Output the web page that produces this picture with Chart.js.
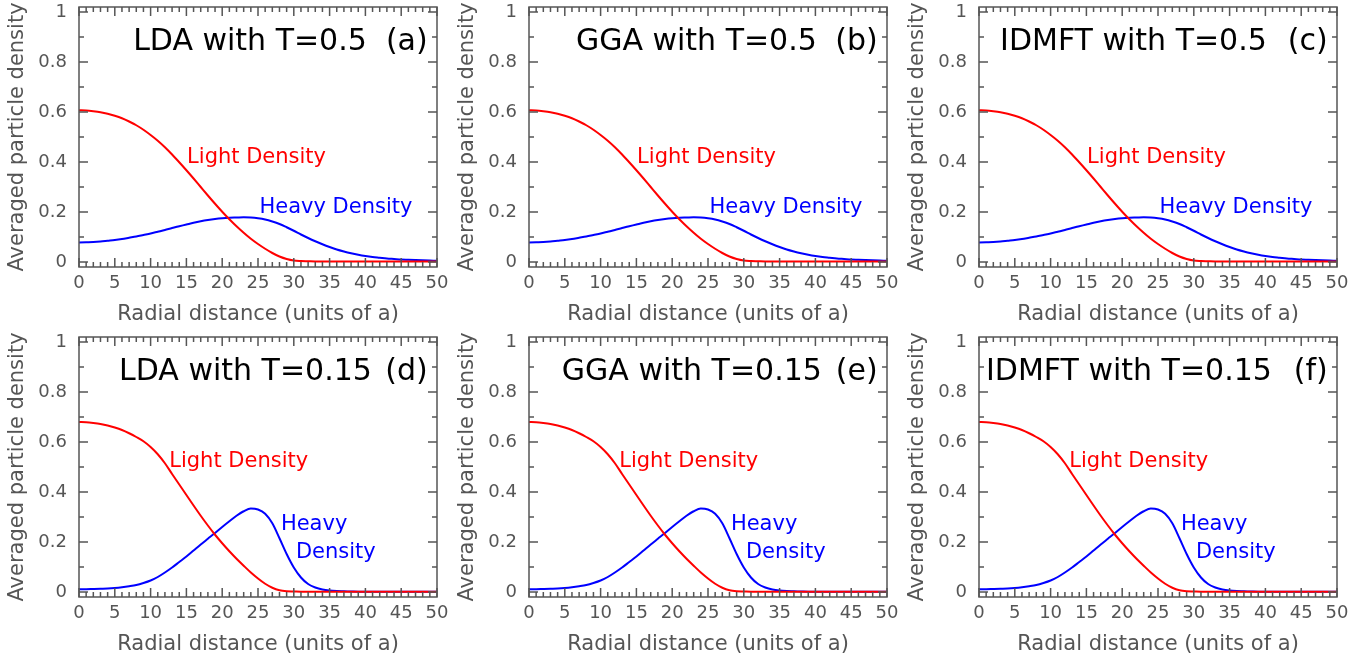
<!DOCTYPE html>
<html lang="en">
<head>
    <meta charset="UTF-8">
    <meta name="viewport" content="width=device-width, initial-scale=1.0">
    <title>Averaged particle density</title>
    <script src="https://cdn.jsdelivr.net/npm/chart.js@4.4.2/dist/chart.umd.min.js"></script>
    <style>
        body { margin: 0; background: #fff; }
        #wrap { position: relative; width: 1372px; height: 662px; }
        #wrap canvas { position: absolute; }
    </style>
</head>
<body>

    <div id="wrap"></div>

    <script>

        // radial distance (units of a)
        const radius = [0,1,2,3,4,5,6,7,8,9,10,11,12,13,14,15,16,17,18,19,20,21,22,23,24,25,
                        26,27,28,29,30,31,32,33,34,35,36,37,38,39,40,41,42,43,44,45,46,47,48,49,50];

        // T = 0.5 (top row)
        const lightHot = [0.607,0.606,0.603,0.599,0.593,0.585,0.575,0.562,0.547,0.529,0.508,0.485,0.459,0.430,0.399,0.367,
                          0.334,0.300,0.266,0.233,0.201,0.171,0.143,0.117,0.093,0.072,0.053,0.036,0.022,0.012,0.006,0.004,
                          0.003,0.002,0.002,0.002,0.002,0.002,0.002,0.002,0.002,0.002,0.002,0.002,0.002,0.002,0.002,0.002,
                          0.002,0.002,0.002];
        const heavyHot = [0.078,0.079,0.080,0.082,0.085,0.088,0.092,0.097,0.102,0.108,0.114,0.121,0.128,0.136,0.143,0.150,
                          0.157,0.163,0.168,0.172,0.175,0.177,0.178,0.179,0.178,0.175,0.170,0.162,0.152,0.139,0.125,0.110,
                          0.096,0.083,0.071,0.060,0.050,0.042,0.035,0.029,0.024,0.020,0.017,0.014,0.012,0.010,0.009,0.008,
                          0.007,0.006,0.005];

        // T = 0.15 (bottom row)
        const lightCold = [0.680,0.679,0.676,0.672,0.666,0.658,0.648,0.635,0.620,0.603,0.580,0.551,0.515,0.472,0.430,0.388,
                           0.346,0.305,0.266,0.229,0.195,0.163,0.133,0.105,0.078,0.054,0.033,0.017,0.007,0.003,0.002,0.001,
                           0.001,0.001,0.001,0.001,0.001,0.001,0.001,0.001,0.001,0.001,0.001,0.001,0.001,0.001,0.001,0.001,
                           0.001,0.001,0.001];
        const heavyCold = [0.011,0.011,0.012,0.013,0.014,0.016,0.019,0.023,0.028,0.036,0.046,0.060,0.078,0.098,0.120,0.142,
                           0.166,0.190,0.213,0.236,0.260,0.283,0.305,0.323,0.334,0.330,0.313,0.275,0.215,0.152,0.098,0.058,
                           0.032,0.018,0.010,0.006,0.004,0.003,0.002,0.001,0.001,0.001,0.001,0.001,0.001,0.001,0.001,0.001,
                           0.001,0.001,0.001];

        const xTicks = [0,5,10,15,20,25,30,35,40,45,50];
        const yTicks = [0,0.2,0.4,0.6,0.8,1];

        const methods = ['LDA','GGA','IDMFT'];
        const temps = ['0.5','0.15'];
        const letters = [['(a)','(b)','(c)'],['(d)','(e)','(f)']];

        const FONT = '"DejaVu Sans", sans-serif';
        const GREY = '#555';

        // box with inward ticks on all four sides
        const framePlugin = {
            id: 'frame',
            afterDatasetsDraw(chart) {
                const {ctx, chartArea: a, scales: {x, y}} = chart;
                ctx.save();
                ctx.strokeStyle = GREY;
                ctx.lineWidth = 1.5;
                ctx.strokeRect(a.left, a.top, a.width, a.height);
                ctx.beginPath();
                for (let v = 0; v <= 50; v++) {
                    const px = x.getPixelForValue(v);
                    const len = v % 5 === 0 ? 9 : 5;
                    ctx.moveTo(px, a.bottom); ctx.lineTo(px, a.bottom - len);
                    ctx.moveTo(px, a.top); ctx.lineTo(px, a.top + len);
                }
                for (let k = 0; k <= 10; k++) {
                    const py = y.getPixelForValue(k / 10);
                    const len = k % 2 === 0 ? 9 : 5;
                    ctx.moveTo(a.left, py); ctx.lineTo(a.left + len, py);
                    ctx.moveTo(a.right, py); ctx.lineTo(a.right - len, py);
                }
                ctx.stroke();
                ctx.restore();
            }
        };

        // titles and curve labels, placed in data coordinates
        const notesPlugin = {
            id: 'notes',
            afterDatasetsDraw(chart, args, opts) {
                const {ctx, scales: {x, y}} = chart;
                ctx.save();
                ctx.textBaseline = 'alphabetic';
                opts.items.forEach(t => {
                    ctx.font = t.size + 'px ' + FONT;
                    ctx.fillStyle = t.color;
                    ctx.textAlign = t.align;
                    ctx.fillText(t.text, x.getPixelForValue(t.x), y.getPixelForValue(t.y));
                });
                ctx.restore();
            }
        };

        function pts(arr) {
            return radius.map((r, i) => ({x: r, y: arr[i]}));
        }

        function makePanel(row, col) {
            const canvas = document.createElement('canvas');
            canvas.width = 450;
            canvas.height = 330;
            canvas.style.left = (col * 450) + 'px';
            canvas.style.top = (row * 330) + 'px';
            document.getElementById('wrap').appendChild(canvas);

            const light = row === 0 ? lightHot : lightCold;
            const heavy = row === 0 ? heavyHot : heavyCold;

            let items = [
                {text: methods[col] + ' with T=' + temps[row], x: row === 0 ? 40.2 : 40.9, y: 0.848, size: 30, color: '#000', align: 'right'},
                {text: letters[row][col], x: 48.7, y: 0.848, size: 30, color: '#000', align: 'right'}
            ];
            if (row === 0) {
                items.push({text: 'Light Density', x: 15.1, y: 0.395, size: 21, color: '#ff0000', align: 'left'});
                items.push({text: 'Heavy Density', x: 25.2, y: 0.195, size: 21, color: '#0000ff', align: 'left'});
            } else {
                items.push({text: 'Light Density', x: 12.6, y: 0.499, size: 21, color: '#ff0000', align: 'left'});
                items.push({text: 'Heavy', x: 28.2, y: 0.248, size: 21, color: '#0000ff', align: 'left'});
                items.push({text: 'Density', x: 30.3, y: 0.135, size: 21, color: '#0000ff', align: 'left'});
            }

            new Chart(canvas, {
                type: 'line',
                data: {
                    datasets: [{
                        label: 'Light Density',
                        data: pts(light),
                        borderColor: '#ff0000',
                        borderWidth: 2,
                        pointRadius: 0,
                        cubicInterpolationMode: 'monotone',
                        fill: false
                    }, {
                        label: 'Heavy Density',
                        data: pts(heavy),
                        borderColor: '#0000ff',
                        borderWidth: 2,
                        pointRadius: 0,
                        cubicInterpolationMode: 'monotone',
                        fill: false
                    }]
                },
                options: {
                    responsive: false,
                    animation: false,
                    events: [],
                    layout: {padding: {top: 7, right: 13, left: 0, bottom: 0}},
                    plugins: {
                        legend: {display: false},
                        tooltip: {enabled: false},
                        notes: {items: items}
                    },
                    scales: {
                        x: {
                            type: 'linear',
                            min: 0,
                            max: 50,
                            afterBuildTicks: s => { s.ticks = xTicks.map(v => ({value: v})); },
                            afterFit: s => { s.height = 63; s.paddingLeft = 0; s.paddingRight = 0; },
                            grid: {display: false, drawTicks: false},
                            border: {display: false},
                            ticks: {padding: 6, color: GREY, font: {family: FONT, size: 18}, maxRotation: 0, autoSkip: false},
                            title: {display: true, text: 'Radial distance (units of a)', color: GREY,
                                    font: {family: FONT, size: 21}, padding: {top: 0, bottom: 3}}
                        },
                        y: {
                            min: -0.02,
                            max: 1.02,
                            afterBuildTicks: s => { s.ticks = yTicks.map(v => ({value: v})); },
                            afterFit: s => { s.width = 79; s.paddingTop = 0; s.paddingBottom = 0; },
                            grid: {display: false, drawTicks: false},
                            border: {display: false},
                            ticks: {padding: 12, color: GREY, font: {family: FONT, size: 18}, callback: v => String(v)},
                            title: {display: true, text: 'Averaged particle density', color: GREY,
                                    font: {family: FONT, size: 21}, padding: {top: 5, bottom: 0}}
                        }
                    }
                },
                plugins: [framePlugin, notesPlugin]
            });
        }

        for (let row = 0; row < 2; row++) {
            for (let col = 0; col < 3; col++) {
                makePanel(row, col);
            }
        }
    </script>
</body>
</html>
